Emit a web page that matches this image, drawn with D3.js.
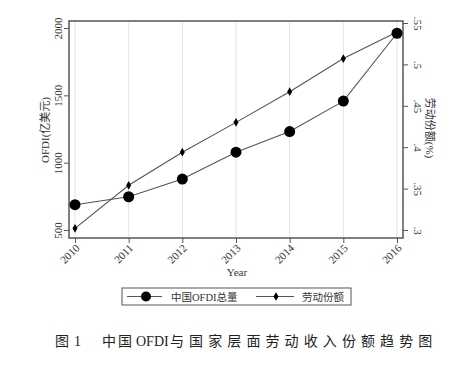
<!DOCTYPE html>
<html><head><meta charset="utf-8">
<script src="https://cdn.jsdelivr.net/npm/d3@7"></script>
<style>body{margin:0;background:#fff}svg{display:block}</style>
</head><body>
<script>
const years = [2010, 2011, 2012, 2013, 2014, 2015, 2016];
const ofdi = [688, 747, 878, 1078, 1231, 1457, 1961];
const laborShare = [0.302, 0.354, 0.394, 0.430, 0.467, 0.507, 0.539];
const leftTicks = [500, 1000, 1500, 2000];
const rightTicks = [0.3, 0.35, 0.4, 0.45, 0.5, 0.55];
const rightTickLabels = [".3", ".35", ".4", ".45", ".5", ".55"];

const W = 466, H = 367;
const serif = "'Liberation Serif','Times New Roman','Noto Sans CJK SC',serif";
const svg = d3.select("body").append("svg").attr("width", W).attr("height", H);

const frame = {l: 69, r: 403, t: 21, b: 238};
const x = d3.scalePoint().domain(years).range([75, 397]);
const yL = d3.scaleLinear().domain([500, 2000]).range([230, 28]);
const yR = d3.scaleLinear().domain([0.3, 0.55]).range([230, 23]);
const ink = "#333";

// gridlines
svg.append("g").selectAll("line").data(years).join("line")
  .attr("x1", d => x(d)).attr("x2", d => x(d))
  .attr("y1", frame.t).attr("y2", frame.b)
  .attr("stroke", "#e3e3e3").attr("stroke-width", 1);

// frame
svg.append("rect").attr("x", frame.l).attr("y", frame.t)
  .attr("width", frame.r - frame.l).attr("height", frame.b - frame.t)
  .attr("fill", "none").attr("stroke", "#555").attr("stroke-width", 1.5);

// left axis
const gL = svg.append("g").attr("transform", `translate(${frame.l},0)`)
  .call(d3.axisLeft(yL).tickValues(leftTicks).tickSize(5).tickFormat(d3.format("d")));
gL.select(".domain").remove();
gL.selectAll("line").attr("stroke", "#555");
gL.selectAll("text").attr("x", 0).attr("dy", 0).attr("y", 0)
  .attr("transform", "translate(-7,0) rotate(-90)")
  .attr("text-anchor", "middle")
  .style("font-family", serif).style("font-size", "11px").attr("fill", ink);

// right axis
const gR = svg.append("g").attr("transform", `translate(${frame.r},0)`)
  .call(d3.axisRight(yR).tickValues(rightTicks).tickSize(5)
    .tickFormat((d, i) => rightTickLabels[i]));
gR.select(".domain").remove();
gR.selectAll("line").attr("stroke", "#555");
gR.selectAll("text").attr("x", 0).attr("dy", 0).attr("y", 0)
  .attr("transform", "translate(11,0) rotate(90)")
  .attr("text-anchor", "middle")
  .style("font-family", serif).style("font-size", "11px").attr("fill", ink);

// bottom axis
const gB = svg.append("g").attr("transform", `translate(0,${frame.b})`)
  .call(d3.axisBottom(x).tickSize(5).tickFormat(d3.format("d")));
gB.select(".domain").remove();
gB.selectAll("line").attr("stroke", "#555");
gB.selectAll("text").attr("x", 0).attr("y", 0).attr("dy", 0)
  .attr("transform", "translate(3,9) rotate(-45)")
  .attr("text-anchor", "end").attr("dominant-baseline", "middle")
  .style("font-family", serif).style("font-size", "11px").attr("fill", ink);

// axis titles
svg.append("text").attr("transform", "translate(46,130) rotate(-90)")
  .attr("text-anchor", "middle").attr("dominant-baseline", "middle")
  .style("font-family", serif).style("font-size", "11px").attr("fill", ink)
  .text("OFDI(亿美元)");
svg.append("text").attr("transform", "translate(429,128) rotate(90)")
  .attr("text-anchor", "middle").attr("dominant-baseline", "middle")
  .style("font-family", serif).style("font-size", "11px").attr("fill", ink)
  .text("劳动份额(%)");
svg.append("text").attr("x", 237).attr("y", 276).attr("text-anchor", "middle")
  .style("font-family", serif).style("font-size", "11px").attr("fill", ink)
  .text("Year");

// lines
const lineO = d3.line().x((d, i) => x(years[i])).y(d => yL(d));
const lineL = d3.line().x((d, i) => x(years[i])).y(d => yR(d));
svg.append("path").datum(ofdi).attr("d", lineO)
  .attr("fill", "none").attr("stroke", "#555").attr("stroke-width", 1.1);
svg.append("path").datum(laborShare).attr("d", lineL)
  .attr("fill", "none").attr("stroke", "#555").attr("stroke-width", 1.1);

svg.append("g").selectAll("circle").data(ofdi).join("circle")
  .attr("cx", (d, i) => x(years[i])).attr("cy", d => yL(d))
  .attr("r", 5.5).attr("fill", "#000");
const diamond = d3.symbol().type(d3.symbolDiamond).size(22);
svg.append("g").selectAll("path").data(laborShare).join("path")
  .attr("d", diamond)
  .attr("transform", (d, i) => `translate(${x(years[i])},${yR(d)})`)
  .attr("fill", "#000");

// legend
svg.append("rect").attr("x", 122).attr("y", 288).attr("width", 229).attr("height", 17)
  .attr("fill", "none").attr("stroke", "#555").attr("stroke-width", 1);
const lg = svg.append("g");
lg.append("line").attr("x1", 127).attr("x2", 162).attr("y1", 296.5).attr("y2", 296.5)
  .attr("stroke", "#555").attr("stroke-width", 1.1);
lg.append("circle").attr("cx", 146).attr("cy", 296.5).attr("r", 5).attr("fill", "#000");
lg.append("text").attr("x", 171).attr("y", 300.5)
  .style("font-family", serif).style("font-size", "10.5px").attr("fill", ink)
  .text("中国OFDI总量");
lg.append("line").attr("x1", 256).attr("x2", 294).attr("y1", 296.5).attr("y2", 296.5)
  .attr("stroke", "#555").attr("stroke-width", 1.1);
lg.append("path").attr("d", diamond).attr("transform", "translate(276,296.5)").attr("fill", "#000");
lg.append("text").attr("x", 302).attr("y", 300.5)
  .style("font-family", serif).style("font-size", "10.5px").attr("fill", ink)
  .text("劳动份额");

// caption
const cap = svg.append("text").attr("y", 346)
  .style("font-family", serif).style("font-size", "14px").attr("fill", "#222");
cap.append("tspan").attr("x", 55).style("letter-spacing", "2px").text("图");
cap.append("tspan").attr("x", 74).text("1");
cap.append("tspan").attr("x", 102).style("letter-spacing", "2px").text("中国");
cap.append("tspan").attr("x", 136).style("font-size", "14px").text("OFDI");
cap.append("tspan").attr("x", 170).style("letter-spacing", "5.1px").text("与国家层面劳动收入份额趋势图");
</script>
</body></html>
